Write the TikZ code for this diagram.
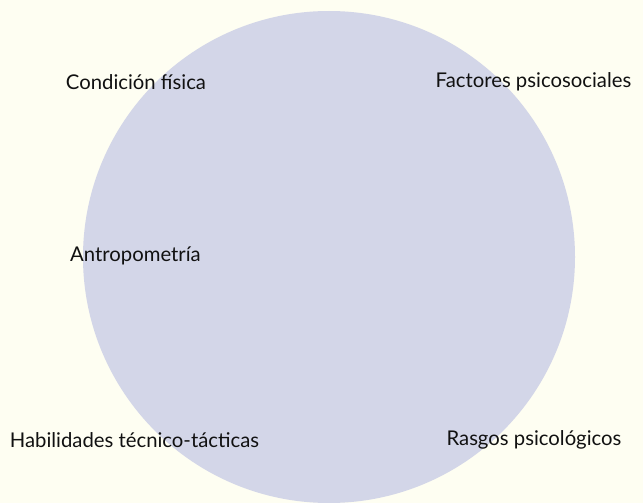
\documentclass[tikz,border=0pt]{standalone}
\usepackage{fontspec}
\setmainfont{Lato}
\definecolor{bgc}{HTML}{FEFEF2}
\definecolor{circc}{HTML}{D3D6E8}
\definecolor{txtc}{HTML}{111111}
\begin{document}
\begin{tikzpicture}[x=1pt,y=-1pt,
  lbl/.style={text=txtc,font=\fontsize{20.3}{24}\selectfont,inner sep=0pt,anchor=center}]
\fill[bgc] (0,0) rectangle (643,503);
\useasboundingbox (0,0) rectangle (643,503);
\fill[circc] (329,257) circle[radius=246];
\node[lbl] (cf) at (136,82) {Condición física};
\node[lbl] (fp) at (533.5,82) {Factores psicosociales};
\node[lbl] (an) at (135.5,256) {Antropometría};
\node[lbl] (ht) at (134.5,440) {Habilidades técnico-tácticas};
\node[lbl] (rp) at (534,440) {Rasgos psicológicos};
\end{tikzpicture}
\end{document}
